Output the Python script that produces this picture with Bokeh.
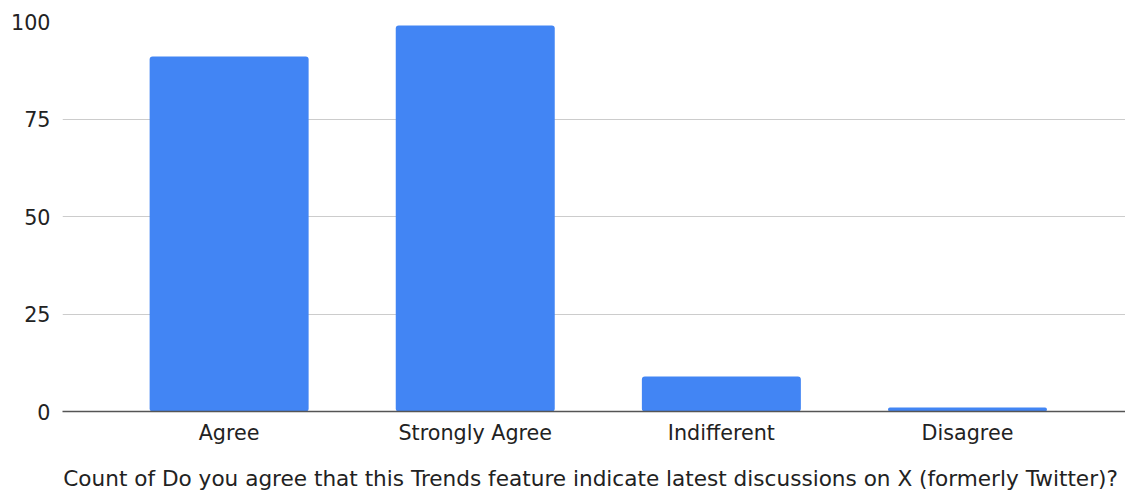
from bokeh.plotting import figure
from bokeh.models import Range1d, FixedTicker, ColumnDataSource
from bokeh.embed import file_html
from bokeh.resources import INLINE

categories = ["Agree", "Strongly Agree", "Indifferent", "Disagree"]
counts = [91, 99, 9, 1]
y_ticks = [0, 25, 50, 75, 100]
x_title = "Count of Do you agree that this Trends feature indicate latest discussions on  X (formerly Twitter)?"

positions = list(range(len(categories)))
source = ColumnDataSource(data=dict(x=positions, top=counts, name=categories))

FONT = "DejaVu Sans"
TEXT = "#222222"

p = figure(width=1125, height=493, output_backend="svg", toolbar_location=None,
           x_range=Range1d(-0.677, 3.642), y_range=Range1d(0, 100),
           min_border_left=62, min_border_right=0, min_border_top=21, min_border_bottom=0)
p.outline_line_color = None
p.background_fill_color = "white"
p.border_fill_color = "white"

p.vbar(x="x", top="top", bottom=0, width=0.646, source=source,
       fill_color="#4285F4", line_color=None, border_radius=3)

# x axis
p.xaxis.ticker = FixedTicker(ticks=positions)
p.xaxis.major_label_overrides = {i: c for i, c in enumerate(categories)}
p.xaxis.axis_line_color = "#555555"
p.xaxis.axis_line_width = 1.5
p.xaxis.major_tick_line_color = None
p.xaxis.minor_tick_line_color = None
p.xaxis.major_tick_out = 0
p.xaxis.major_tick_in = 0
p.xaxis.major_label_text_font = FONT
p.xaxis.major_label_text_font_size = "20.7px"
p.xaxis.major_label_text_color = TEXT
p.xaxis.major_label_standoff = 9
p.xaxis.axis_label = x_title
p.xaxis.axis_label_text_font = FONT
p.xaxis.axis_label_text_font_size = "21.6px"
p.xaxis.axis_label_text_font_style = "normal"
p.xaxis.axis_label_text_color = TEXT
p.xaxis.axis_label_standoff = 18

# y axis
p.yaxis.ticker = FixedTicker(ticks=y_ticks)
p.yaxis.axis_line_color = None
p.yaxis.major_tick_line_color = None
p.yaxis.minor_tick_line_color = None
p.yaxis.major_tick_out = 0
p.yaxis.major_tick_in = 0
p.yaxis.major_label_text_font = FONT
p.yaxis.major_label_text_font_size = "20.7px"
p.yaxis.major_label_text_color = TEXT
p.yaxis.major_label_standoff = 12

p.xgrid.grid_line_color = None
p.ygrid.grid_line_color = "#cccccc"
p.ygrid.grid_line_width = 1

open("out.html", "w").write(file_html(p, INLINE))
